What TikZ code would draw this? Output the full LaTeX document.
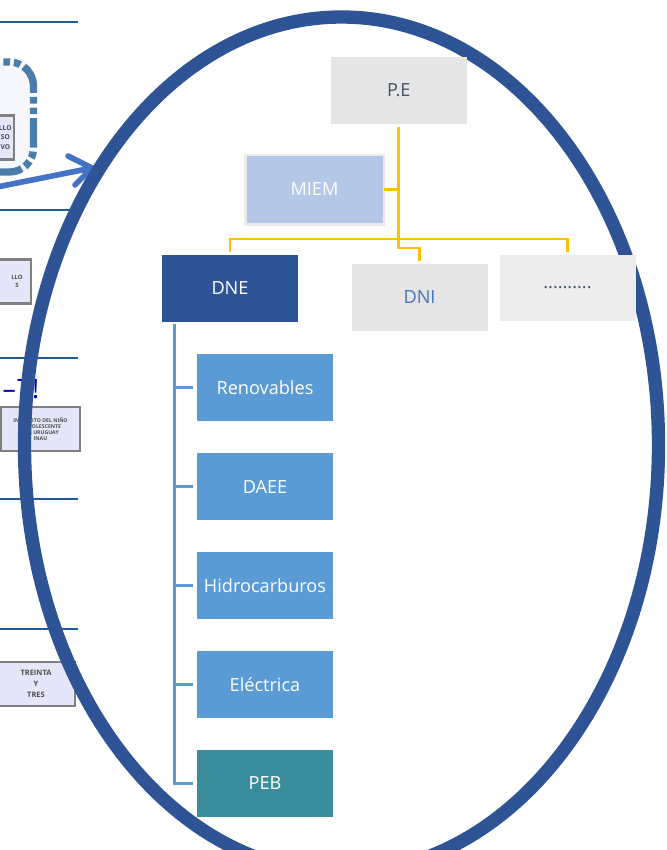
\documentclass[tikz,border=0pt]{standalone}
\usepackage{fontspec}
\setmainfont{Open Sans}
\definecolor{ringblue}{HTML}{2F5496}
\definecolor{arrowblue}{HTML}{4472C4}
\definecolor{rulecol}{HTML}{1F5C94}
\definecolor{midblue}{HTML}{5B9BD5}
\definecolor{teal}{HTML}{3A8E9C}
\definecolor{paleblue}{HTML}{B4C7E7}
\definecolor{gold}{HTML}{FFC000}
\definecolor{slatetext}{HTML}{44546A}
\definecolor{lilac}{HTML}{E6E6FA}
\tikzset{
  x=0.75pt,y=-0.75pt,
  box/.style={minimum width=102pt,minimum height=50pt,inner sep=0pt,outer sep=0pt,font=\fontsize{13.6}{15}\selectfont,anchor=center},
  greybox/.style={box,fill=black!10},
  subbox/.style={box,fill=midblue,text=white},
  goldline/.style={draw=gold,line width=2.2pt},
  blueline/.style={draw=midblue,line width=2pt},
  siderule/.style={draw=rulecol,line width=1.5pt},
  sidebox/.style={draw=black!50,fill=lilac,line width=1.6pt,inner sep=0pt,outer sep=0pt,align=center,font=\fontsize{4.5}{5.5}\selectfont\bfseries,text=black!70},
}
\begin{document}
\begin{tikzpicture}
\useasboundingbox (0,0) rectangle (667,850);
\clip (0,0) rectangle (667,850);
% left-hand slide fragments
\coordinate (r1a) at (-5,22);\coordinate (r1b) at (78,22);
\coordinate (r2a) at (-5,210);\coordinate (r2b) at (78,210);
\coordinate (r3a) at (-5,357.5);\coordinate (r3b) at (78,357.5);
\coordinate (r4a) at (-5,499);\coordinate (r4b) at (78,499);
\coordinate (r5a) at (-5,628.5);\coordinate (r5b) at (78,628.5);
\draw[siderule] (r1a)--(r1b) (r2a)--(r2b) (r3a)--(r3b) (r4a)--(r4b) (r5a)--(r5b);
\fill[lilac!35] (-20,62) rectangle (30,170);
\draw[rulecol!80,line width=5.5pt,dash pattern=on 22pt off 3pt on 5pt off 3pt on 5pt off 3pt,rounded corners=18pt] (-30,62) -- (33.5,62) -- (33.5,172) -- (-30,172);
\node[sidebox,minimum width=27pt,minimum height=33pt,font=\fontsize{5}{7}\selectfont\bfseries] (s0) at (-4,137.5) {\hspace*{14pt}LLO\\\hspace*{14pt}SO\\\hspace*{14pt}VO};
\node[sidebox,minimum width=45pt,minimum height=33pt] (s1) at (1,281.5) {\hspace*{24pt}LLO\\\hspace*{24pt}S};
\node[sidebox,minimum width=59pt,minimum height=33pt,font=\fontsize{3.9}{4.6}\selectfont\bfseries] (s2) at (40.5,429) {INSTITUTO DEL NIÑO\\Y ADOLESCENTE\\DEL URUGUAY\\INAU};
\node[sidebox,minimum width=59pt,minimum height=33pt,font=\fontsize{5.6}{8}\selectfont\bfseries] (s3) at (36,684) {TREINTA\\Y\\TRES};
\node[inner sep=0pt,text=blue!70!black,font=\fontsize{20}{20}\selectfont] (s4) at (21,389) {–\kern1pt T!};
% arrow into the ring
\coordinate (arrS) at (-8,188);
\coordinate (arrE) at (92,168);
\draw[arrowblue,line width=4.2pt,line cap=round,line join=round] (arrS)--(arrE) (68,156)--(arrE)--(75,185);
% ring
\draw[ringblue,line width=10pt] (341.5,445) ellipse [x radius=317,y radius=428];
% org chart
\node[greybox,text=slatetext] (pe) at (398.75,90.5) {P.E};
\node[box,fill=paleblue,draw=black!8,line width=2pt,text=white,minimum width=104pt,minimum height=52pt] (miem) at (314.5,189.5) {MIEM};
\node[box,fill=ringblue,text=white] (dne) at (230,288.5) {DNE};
\node[greybox,text=arrowblue] (dni) at (419.5,297.5) {DNI};
\node[box,fill=black!7,text=slatetext] (more) at (567.5,288) {..........};
\coordinate (peS) at ([yshift=-2.5pt]pe.south);
\coordinate (busY) at (0,239);
\coordinate (dropY) at (0,252);
\coordinate (jogY) at (0,248);
\coordinate (dniY) at (0,261);
\draw[goldline] (peS) -- (peS |- busY);
\draw[goldline] (miem.east) -- (miem.east -| peS);
\draw[goldline] (dne.north |- dropY) |- (busY -| more.north) -- (more.north |- dropY);
\draw[goldline] (peS |- busY) |- (jogY -| dni.north) -- (dni.north |- dniY);
\foreach \n/\t/\y in {ren/Renovables/387.5,daee/DAEE/486.5,hid/Hidrocarburos/585.5,ele/Eléctrica/684.5}{
  \node[subbox] (\n) at (265,\y) {\t};
}
\node[box,fill=teal,text=white] (peb) at (265,783.5) {PEB};
\coordinate (trunk) at (174.5,324);
\draw[blueline] (trunk) -- (trunk |- peb) -- ([xshift=-3pt]peb.west);
\foreach \n in {ren,daee,hid,ele}{
  \draw[blueline] (trunk |- \n) -- ([xshift=-3pt]\n.west);
}
\end{tikzpicture}
\end{document}
